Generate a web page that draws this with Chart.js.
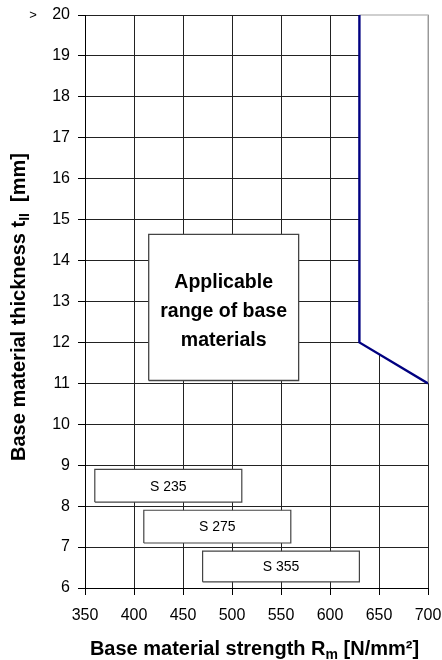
<!DOCTYPE HTML>
<html>
<head>
  <title>Applicable range of base materials</title>
  <script src="https://cdn.jsdelivr.net/npm/chart.js"></script>
  <style>
    body { margin: 0; background: #fff; }
  </style>
</head>
<body>
  <canvas id="myChart" width="442" height="660"></canvas>

  <script type="text/javascript">
    // steel grades and their strength / thickness boxes
    var grades = ["S 235", "S 275", "S 355"];
    var gradeRmMin = [360, 410, 470];
    var gradeRmMax = [510, 560, 630];
    var gradeTLow = [8.1, 7.1, 6.15];
    var gradeTHigh = [8.9, 7.9, 6.9];

    // limit line of the applicable range
    var limitRm = [630, 630, 700];
    var limitT = [20, 12, 11];

    // label box "Applicable range of base materials"
    var rangeLabel = ["Applicable", "range of base", "materials"];
    var rangeRm = [415, 568];
    var rangeT = [11.07, 14.64];

    var xTicks = [350, 400, 450, 500, 550, 600, 650, 700];
    var yTicks = [6, 7, 8, 9, 10, 11, 12, 13, 14, 15, 16, 17, 18, 19, 20];

    var FONT = 'Arial, "Liberation Sans"';

    function rect(x1, x2, y1, y2) {
      return [{x: x1, y: y1}, {x: x2, y: y1}, {x: x2, y: y2}, {x: x1, y: y2}, {x: x1, y: y1}];
    }

    // lower "order" is drawn on top
    var datasets = [];
    // white out the area beyond the limit line
    datasets.push({
      order: 10,
      data: [{x: limitRm[1], y: limitT[1]}, {x: limitRm[2], y: limitT[2]}],
      fill: 'end', backgroundColor: '#ffffff', borderWidth: 0, pointRadius: 0, showLine: true
    });
    // light frame beyond the limit line
    datasets.push({
      order: 9, clip: false,
      data: [{x: limitRm[0], y: limitT[0]}, {x: xTicks[xTicks.length - 1], y: limitT[0]}, {x: limitRm[2], y: limitT[2]}],
      borderColor: '#c0c0c0', borderWidth: 1.5, pointRadius: 0, showLine: true, fill: false
    });
    // blue limit line
    datasets.push({
      order: 0,
      data: limitRm.map(function (v, i) { return {x: v, y: limitT[i]}; }),
      borderColor: '#000080', borderWidth: 2.4, pointRadius: 0, showLine: true, fill: false
    });
    // range label box
    datasets.push({
      order: 5,
      data: rect(rangeRm[0], rangeRm[1], rangeT[0], rangeT[1]),
      fill: 'shape', backgroundColor: '#ffffff', borderColor: '#444444', borderWidth: 1.3,
      pointRadius: 0, showLine: true
    });
    // grade boxes
    for (var i = 0; i < grades.length; i++) {
      datasets.push({
        order: 5,
        data: rect(gradeRmMin[i], gradeRmMax[i], gradeTLow[i], gradeTHigh[i]),
        fill: 'shape', backgroundColor: '#ffffff', borderColor: '#444444', borderWidth: 1.2,
        pointRadius: 0, showLine: true
      });
    }

    function drawSubText(c, parts, x, y) {
      // parts: [text, isSub]; drawn left to right, centred at x
      var total = 0;
      parts.forEach(function (p) {
        c.font = p[1] ? 'bold 14px ' + FONT : 'bold 20px ' + FONT;
        total += c.measureText(p[0]).width;
      });
      var cx = x - total / 2;
      c.textAlign = 'left';
      c.textBaseline = 'alphabetic';
      parts.forEach(function (p) {
        c.font = p[1] ? 'bold 14px ' + FONT : 'bold 20px ' + FONT;
        c.fillText(p[0], cx, y + (p[1] ? 4 : 0));
        cx += c.measureText(p[0]).width;
      });
    }

    var labelPlugin = {
      id: 'labelPlugin',
      afterDraw: function (chart) {
        var c = chart.ctx;
        var xs = chart.scales.x;
        var ys = chart.scales.y;
        var area = chart.chartArea;
        c.save();
        c.fillStyle = '#000';

        // grade names
        c.font = '14px ' + FONT;
        c.textAlign = 'center';
        c.textBaseline = 'middle';
        for (var i = 0; i < grades.length; i++) {
          c.fillText(grades[i],
            xs.getPixelForValue((gradeRmMin[i] + gradeRmMax[i]) / 2),
            ys.getPixelForValue((gradeTLow[i] + gradeTHigh[i]) / 2) + 1);
        }

        // range label
        c.font = 'bold 19.5px ' + FONT;
        var cx = xs.getPixelForValue((rangeRm[0] + rangeRm[1]) / 2);
        var cy = ys.getPixelForValue((rangeT[0] + rangeT[1]) / 2) + 4;
        for (var j = 0; j < rangeLabel.length; j++) {
          c.fillText(rangeLabel[j], cx, cy + (j - 1) * 29);
        }

        // ">" marker above the top tick
        c.font = '13px ' + FONT;
        c.fillText('>', 33, ys.getPixelForValue(20));

        // x axis title
        drawSubText(c, [['Base material strength R', false], ['m', true], [' [N/mm\u00b2]', false]],
          (area.left + area.right) / 2 - 2, 655);

        // y axis title
        c.translate(25, 307);
        c.rotate(-Math.PI / 2);
        drawSubText(c, [['Base material thickness t', false], ['II', true], ['  [mm]', false]], 0, 0);
        c.restore();
      }
    };

    var ctx = document.getElementById('myChart');
    var myChart = new Chart(ctx, {
      type: 'scatter',
      data: { datasets: datasets },
      options: {
        responsive: false,
        animation: false,
        layout: { padding: { top: 15, right: 14, left: 0, bottom: 0 } },
        plugins: {
          legend: { display: false },
          tooltip: { enabled: false }
        },
        scales: {
          x: {
            type: 'linear', min: xTicks[0], max: xTicks[xTicks.length - 1],
            afterBuildTicks: function (s) { s.ticks = xTicks.map(function (v) { return {value: v}; }); },
            afterFit: function (s) { s.height = 72; s.paddingLeft = 0; s.paddingRight = 0; },
            ticks: { color: '#000', font: { size: 16, family: FONT }, padding: 11, maxRotation: 0 },
            grid: { color: '#222', lineWidth: 1, tickLength: 7, tickColor: '#000' },
            border: { color: '#000', width: 1 }
          },
          y: {
            type: 'linear', min: yTicks[0], max: yTicks[yTicks.length - 1],
            afterBuildTicks: function (s) { s.ticks = yTicks.map(function (v) { return {value: v}; }); },
            afterFit: function (s) { s.width = 85; s.paddingTop = 0; s.paddingBottom = 0; },
            ticks: { color: '#000', font: { size: 16, family: FONT }, padding: 8 },
            grid: { color: '#222', lineWidth: 1, tickLength: 7, tickColor: '#000' },
            border: { color: '#000', width: 1 }
          }
        }
      },
      plugins: [labelPlugin]
    });
  </script>
</body>
</html>
